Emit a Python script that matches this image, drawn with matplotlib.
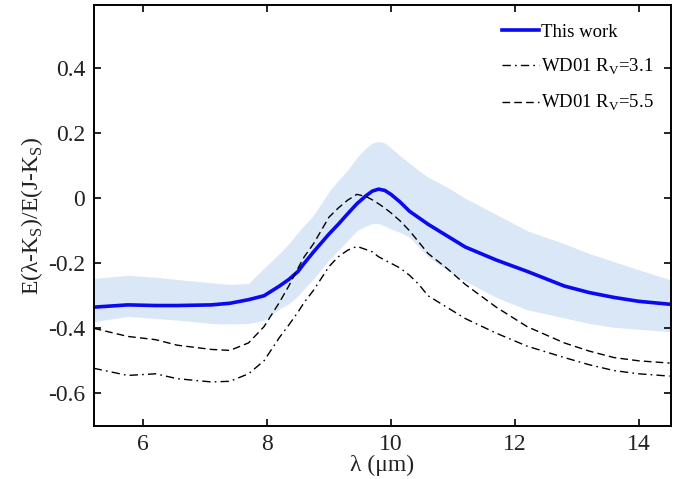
import numpy as np
import matplotlib
matplotlib.use('Agg')
import matplotlib.pyplot as plt

plt.rcParams['font.family'] = ['Liberation Serif', 'DejaVu Serif']
plt.rcParams['mathtext.fontset'] = 'custom'
plt.rcParams['mathtext.rm'] = 'Liberation Serif'

# wavelength grid (micron)
wavelength = [5.2, 5.75, 6.2, 6.55, 7.1, 7.4, 7.7, 7.95, 8.2, 8.35, 8.5, 8.6, 8.75,
              9.0, 9.15, 9.3, 9.45, 9.6, 9.7, 9.8, 9.9, 10.0, 10.15, 10.3, 10.45,
              10.6, 10.9, 11.2, 11.7, 12.2, 12.8, 13.2, 13.6, 14.0, 14.5]

this_work = [-0.335, -0.328, -0.33, -0.33, -0.328, -0.323, -0.312, -0.300, -0.27,
             -0.25, -0.225, -0.2, -0.165, -0.11, -0.08, -0.048, -0.017, 0.008,
             0.022, 0.028, 0.024, 0.012, -0.012, -0.04, -0.06, -0.08, -0.115,
             -0.15, -0.19, -0.225, -0.27, -0.29, -0.305, -0.317, -0.326]
band_upper = [-0.247, -0.237, -0.243, -0.25, -0.26, -0.265, -0.262, -0.215, -0.17,
              -0.14, -0.105, -0.083, -0.052, 0.02, 0.055, 0.086, 0.125, 0.155,
              0.17, 0.175, 0.17, 0.155, 0.13, 0.108, 0.085, 0.065, 0.035, 0.0,
              -0.05, -0.1, -0.14, -0.17, -0.195, -0.22, -0.25]
band_lower = [-0.38, -0.363, -0.37, -0.375, -0.385, -0.387, -0.385, -0.375, -0.34,
              -0.325, -0.3, -0.278, -0.248, -0.19, -0.16, -0.13, -0.1, -0.085,
              -0.078, -0.078, -0.085, -0.095, -0.105, -0.12, -0.15, -0.18, -0.22,
              -0.255, -0.305, -0.343, -0.368, -0.385, -0.397, -0.403, -0.41]
wd01_rv55 = [-0.40, -0.425, -0.435, -0.452, -0.465, -0.468, -0.445, -0.395, -0.32,
             -0.27, -0.215, -0.18, -0.14, -0.058, -0.03, -0.006, 0.012, 0.005,
             -0.005, -0.017, -0.03, -0.045, -0.07, -0.1, -0.135, -0.17, -0.215,
             -0.265, -0.335, -0.395, -0.445, -0.47, -0.49, -0.5, -0.507]
wd01_rv31 = [-0.523, -0.545, -0.54, -0.555, -0.565, -0.563, -0.54, -0.5, -0.428,
             -0.39, -0.35, -0.32, -0.283, -0.21, -0.18, -0.16, -0.148, -0.158,
             -0.165, -0.18, -0.19, -0.2, -0.215, -0.237, -0.265, -0.3, -0.335,
             -0.37, -0.415, -0.455, -0.49, -0.512, -0.53, -0.54, -0.547]

xticks = [6, 8, 10, 12, 14]
yticks = [-0.6, -0.4, -0.2, 0, 0.2, 0.4]
ytick_labels = ['-0.6', '-0.4', '-0.2', '0', '0.2', '0.4']

fig = plt.figure(figsize=(6.79, 4.79), dpi=100)
ax = fig.add_axes([0.138, 0.111, 0.850, 0.879])

ax.fill_between(wavelength, band_lower, band_upper, color='#dae7f7', lw=0)
ax.plot(wavelength, this_work, color='#0a0af0', lw=2.6, label='This work')
ax.plot(wavelength, wd01_rv31, color='black', lw=1.0, dashes=(6, 3, 1.2, 3),
        label='WD01 R$_\\mathregular{V}$=3.1')
ax.plot(wavelength, wd01_rv55, color='black', lw=1.0, dashes=(5.5, 3),
        label='WD01 R$_\\mathregular{V}$=5.5')

ax.set_xlim(5.2, 14.52)
ax.set_ylim(-0.7, 0.595)
ax.set_xticks(xticks)
ax.set_yticks(yticks)
ax.set_yticklabels(ytick_labels)
ax.tick_params(direction='in', top=True, right=True, length=5, width=1.2,
               labelsize=17, pad=6, labelcolor='#222222')
for s in ax.spines.values():
    s.set_linewidth(1.4)

ax.set_xlabel('λ (μm)', fontsize=17, labelpad=0, color='#222222')
ax.set_ylabel('E(λ-K$_\\mathregular{S}$)/E(J-K$_\\mathregular{S}$)', fontsize=17,
              labelpad=2, color='#222222')

ax.legend(loc='upper right', frameon=False, fontsize=13.5, handlelength=2.0,
          handletextpad=0.1, labelspacing=0.85, bbox_to_anchor=(1.0, 0.995))

fig.savefig('out.png', dpi=100)
